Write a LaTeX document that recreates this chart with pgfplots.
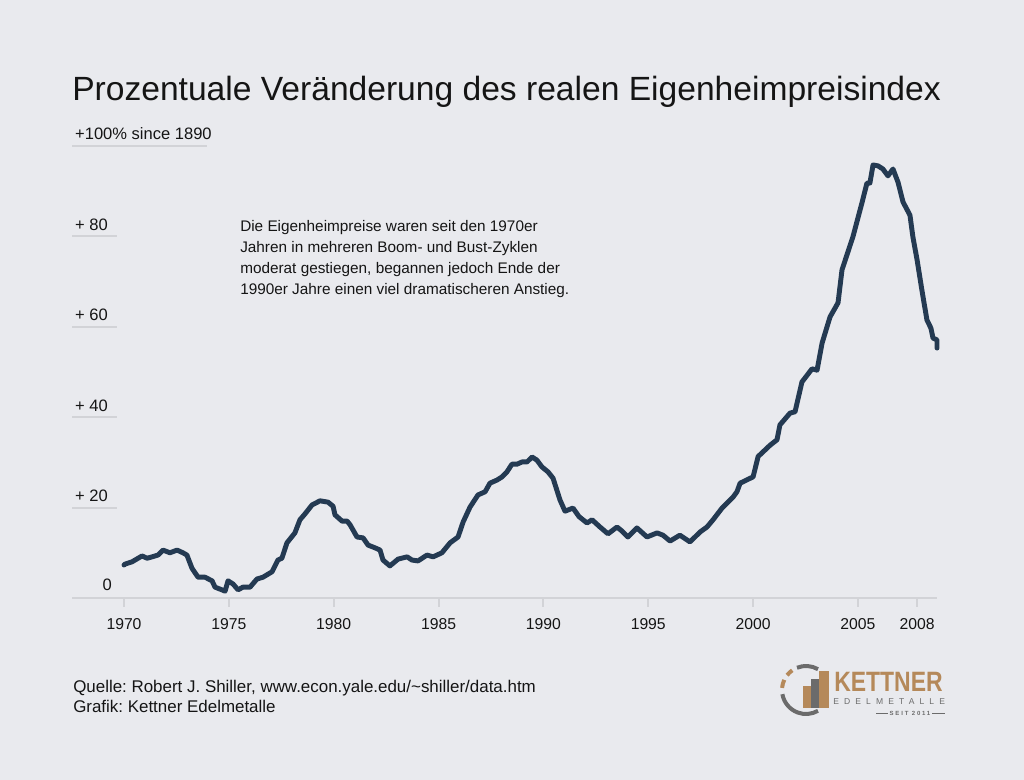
\documentclass[border=0pt]{standalone}
\usepackage{fontspec}
\setmainfont{Liberation Sans}
\newfontfamily\spacedfont[LetterSpace=60]{Liberation Sans}
\newfontfamily\spacedboldfont[LetterSpace=30]{Liberation Sans Bold}
\usepackage{pgfplots}
\pgfplotsset{compat=1.18}
\usepackage{pgfplotstable}
\definecolor{bgc}{HTML}{E9EAEE}
\definecolor{gridc}{HTML}{D2D3D7}
\definecolor{linec}{HTML}{243A52}
\definecolor{txtc}{HTML}{151515}
\definecolor{goldc}{HTML}{B5895A}
\definecolor{grayc}{HTML}{6B6B6B}
\frenchspacing

\pgfplotstableread{
year value
1970.00 7.3
1970.05 7.5
1970.38 8.0
1970.86 9.3
1971.10 8.8
1971.34 9.1
1971.62 9.5
1971.86 10.6
1972.19 10.0
1972.53 10.6
1972.81 10.0
1973.00 9.5
1973.24 6.6
1973.53 4.6
1973.86 4.6
1974.20 3.8
1974.34 2.4
1974.67 1.8
1974.82 1.5
1974.96 3.8
1975.20 3.1
1975.44 1.8
1975.67 2.4
1976.01 2.4
1976.34 4.2
1976.63 4.6
1977.06 5.8
1977.34 8.4
1977.53 8.8
1977.77 12.2
1978.15 14.4
1978.39 17.3
1978.63 18.6
1978.97 20.6
1979.35 21.5
1979.73 21.2
1979.97 20.3
1980.06 18.4
1980.40 17.0
1980.64 17.0
1980.78 16.2
1981.11 13.5
1981.40 13.3
1981.64 11.7
1981.97 11.1
1982.21 10.6
1982.35 8.4
1982.68 7.1
1983.07 8.6
1983.50 9.1
1983.73 8.4
1984.02 8.2
1984.45 9.5
1984.74 9.1
1985.16 10.0
1985.55 12.2
1985.93 13.5
1986.17 16.8
1986.50 20.1
1986.88 22.8
1987.22 23.5
1987.45 25.4
1987.79 26.1
1988.03 26.8
1988.26 27.9
1988.50 29.6
1988.74 29.6
1988.98 30.1
1989.22 30.1
1989.46 31.2
1989.69 30.5
1989.93 29.0
1990.22 27.9
1990.46 26.5
1990.79 21.7
1991.03 19.2
1991.41 19.9
1991.70 18.0
1992.08 16.6
1992.32 17.3
1992.70 15.7
1993.08 14.2
1993.51 15.7
1993.75 14.8
1994.03 13.5
1994.46 15.5
1994.94 13.5
1995.42 14.4
1995.70 13.9
1996.04 12.6
1996.51 13.9
1996.99 12.4
1997.47 14.6
1997.80 15.7
1998.09 17.3
1998.52 19.9
1999.04 22.3
1999.23 23.5
1999.38 25.4
2000.00 26.8
2000.24 31.3
2000.81 33.8
2001.14 35.0
2001.28 38.3
2001.76 40.9
2002.00 41.2
2002.33 47.8
2002.81 50.7
2003.05 50.4
2003.29 56.4
2003.67 62.2
2004.05 65.3
2004.24 72.6
2004.76 79.9
2005.19 87.4
2005.43 91.8
2005.57 91.8
2005.72 95.8
2005.96 95.6
2006.19 94.9
2006.43 93.4
2006.67 94.9
2006.91 92.0
2007.15 87.6
2007.48 84.7
2007.62 79.9
2007.82 74.8
2008.05 68.1
2008.29 61.5
2008.48 59.7
2008.58 57.5
2008.77 57.1
2008.77 55.3
}\housedata

\begin{document}
\begin{tikzpicture}
\path[use as bounding box, fill=bgc] (0,0) rectangle (768pt,585pt);

\begin{axis}[
  at={(54pt,136.5pt)}, anchor=south west,
  scale only axis, width=648.75pt, height=339pt,
  xmin=1967.52, xmax=2008.77, ymin=0, ymax=100,
  clip=false,
  axis y line=none,
  axis x line*=bottom,
  x axis line style={draw=gridc, line width=1.5pt, -},
  xtick={1970,1975,1980,1985,1990,1995,2000,2005,2007.82},
  xticklabels={1970,1975,1980,1985,1990,1995,2000,2005,2008},
  tick align=outside,
  major tick length=6.75pt,
  tick style={draw=gridc, line width=1.5pt},
  xticklabel style={font=\fontsize{11.8}{12}\selectfont, text=txtc, yshift=-5pt},
  /pgf/number format/assume math mode=true,
]
% short gridlines with labels
\foreach \v in {20,40,60,80} {
  \edef\tmp{\noexpand\draw[gridc, line width=1.5pt] (axis cs:1967.52,\v) -- (axis cs:1969.67,\v);
  \noexpand\node[anchor=base west, inner sep=0pt, text=txtc, font=\noexpand\fontsize{12.4}{13}\noexpand\selectfont] at ([yshift=4.5pt]axis cs:1967.66,\v) {+ \v};}
  \tmp
}
\draw[gridc, line width=1.5pt] (axis cs:1967.52,100) -- (axis cs:1973.96,100);
\node[anchor=base west, inner sep=0pt, text=txtc, font=\fontsize{12.4}{13}\selectfont] at ([yshift=4.5pt]axis cs:1967.66,100) {+100\% since 1890};
\node[anchor=base east, inner sep=0pt, text=txtc, font=\fontsize{12.4}{13}\selectfont] at ([yshift=5.25pt]axis cs:1969.43,0) {0};

\addplot[linec, line width=3.7pt, line join=round, line cap=round, mark=none] table[x=year, y=value] {\housedata};
\end{axis}

\begin{scope}[shift={(0pt,585pt)}, x=0.75pt, y=-0.75pt]
  \node[anchor=base west, inner sep=0pt, text=txtc, font=\fontsize{25.2}{26}\selectfont] at (72,101) {Prozentuale Veränderung des realen Eigenheimpreisindex};
  \foreach \t/\yy in {{Die Eigenheimpreise waren seit den 1970er}/232, {Jahren in mehreren Boom- und Bust-Zyklen}/253, {moderat gestiegen, begannen jedoch Ende der}/274, {1990er Jahre einen viel dramatischeren Anstieg.}/295} {
    \node[anchor=base west, inner sep=0pt, text=txtc, font=\fontsize{11.5}{12}\selectfont] at (240,\yy) {\t};
  }
  \node[anchor=base west, inner sep=0pt, text=txtc, font=\fontsize{12.7}{13}\selectfont] at (73,693) {Quelle: Robert J. Shiller, www.econ.yale.edu/\textasciitilde shiller/data.htm};
  \node[anchor=base west, inner sep=0pt, text=txtc, font=\fontsize{12.7}{13}\selectfont] at (73,713) {Grafik: Kettner Edelmetalle};
  % logo
  \node[anchor=base west, inner sep=0pt, text=goldc, font=\bfseries\fontsize{21}{22}\selectfont] at (834,692) {\scalebox{0.82}[1]{KETTNER}};
  \node[anchor=base west, inner sep=0pt, text=grayc, font=\spacedfont\fontsize{6.4}{7}\selectfont] at (833,705) {EDELMETALLE};
  \draw[grayc, line width=0.8pt] (876,713.5) -- (888,713.5);
  \draw[grayc, line width=0.8pt] (932,713.5) -- (945,713.5);
  \node[anchor=base, inner sep=0pt, text=grayc, font=\spacedboldfont\fontsize{4.5}{5}\selectfont] at (910,715.5) {SEIT 2011};
  \fill[goldc] (803,686) rectangle (811,708);
  \fill[grayc] (811,679) rectangle (819,708);
  \fill[goldc] (819,671) rectangle (829,708);
\end{scope}
\begin{scope}[shift={(604.5pt,67.5pt)}, x=0.75pt, y=0.75pt]
  \draw[grayc, line width=3pt] (60:24) arc (60:112:24);
  \draw[goldc, line width=3pt] (125:24) arc (125:142:24);
  \draw[goldc, line width=3pt] (155:24) arc (155:175:24);
  \draw[grayc, line width=3pt] (190:24) arc (190:300:24);
\end{scope}
\end{tikzpicture}
\end{document}
